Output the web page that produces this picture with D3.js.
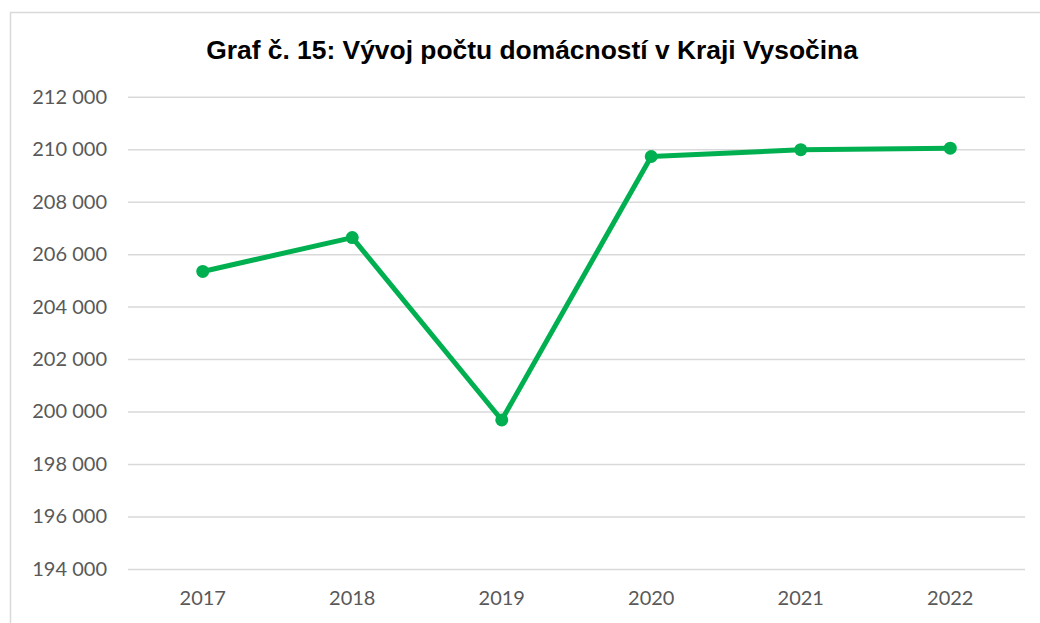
<!DOCTYPE html>
<html>
<head>
<meta charset="utf-8">
<script src="https://cdn.jsdelivr.net/npm/d3@7"></script>
<style>
  body { margin: 0; background: #fff; }
  .chart text { font-family: Lato, "Open Sans", sans-serif; }
</style>
</head>
<body>
<div class="chart"></div>
<script>
// data
var years = ["2017", "2018", "2019", "2020", "2021", "2022"];
var households = [205340, 206630, 199680, 209720, 209980, 210040];
var yTicks = [194000, 196000, 198000, 200000, 202000, 204000, 206000, 208000, 210000, 212000];
var title = "Graf č. 15: Vývoj počtu domácností v Kraji Vysočina";

var svgWidth = 1040;
var svgHeight = 623;

var margin = { top: 96.7, right: 15, bottom: 54, left: 128 };
var width = svgWidth - margin.left - margin.right;
var height = svgHeight - margin.top - margin.bottom;

var svg = d3.select(".chart")
  .append("svg")
  .attr("width", svgWidth)
  .attr("height", svgHeight);

// chart area border (top and left edges show, the rest runs off the page)
svg.append("rect")
  .attr("x", 10.5)
  .attr("y", 12.5)
  .attr("width", 1100)
  .attr("height", 700)
  .attr("fill", "none")
  .attr("stroke", "#d9d9d9")
  .attr("stroke-width", 1.5);

svg.append("text")
  .attr("x", 532)
  .attr("y", 59)
  .attr("text-anchor", "middle")
  .style("font-family", "'Liberation Sans', Arial, sans-serif")
  .style("font-weight", "bold")
  .style("font-size", "26.4px")
  .attr("fill", "#000")
  .text(title);

var chartGroup = svg.append("g")
  .attr("transform", `translate(${margin.left}, ${margin.top})`);

// scales
var xScale = d3.scaleBand()
  .domain(years)
  .range([0, width])
  .padding(0);

var yScale = d3.scaleLinear()
  .domain([194000, 212000])
  .range([height, 0]);

var fmt = function(d) { return d3.format(",")(d).replace(/,/g, " "); };

// gridlines + y labels
var yAxis = d3.axisLeft(yScale)
  .tickValues(yTicks)
  .tickSize(-width)
  .tickPadding(21)
  .tickFormat(fmt);

var yg = chartGroup.append("g").call(yAxis);
yg.select(".domain").remove();
yg.selectAll(".tick line")
  .attr("stroke", "#d9d9d9")
  .attr("stroke-width", 1.5);
yg.selectAll(".tick text")
  .attr("fill", "#595959")
  .style("font-size", "20px");

// x labels
var xAxis = d3.axisBottom(xScale)
  .tickSize(0)
  .tickPadding(22);

var xg = chartGroup.append("g")
  .attr("transform", `translate(0, ${height})`)
  .call(xAxis);
xg.select(".domain").remove();
xg.selectAll(".tick text")
  .attr("fill", "#595959")
  .style("font-size", "20px");

var points = years.map(function(y, i) { return { year: y, value: households[i] }; });

var line = d3.line()
  .x(d => xScale(d.year) + xScale.bandwidth() / 2)
  .y(d => yScale(d.value));

chartGroup.append("path")
  .datum(points)
  .attr("d", line)
  .attr("fill", "none")
  .attr("stroke", "#00b050")
  .attr("stroke-width", 5)
  .attr("stroke-linejoin", "round");

chartGroup.selectAll("circle")
  .data(points)
  .enter()
  .append("circle")
  .attr("cx", d => xScale(d.year) + xScale.bandwidth() / 2)
  .attr("cy", d => yScale(d.value))
  .attr("r", 6.5)
  .attr("fill", "#00b050");
</script>
</body>
</html>
